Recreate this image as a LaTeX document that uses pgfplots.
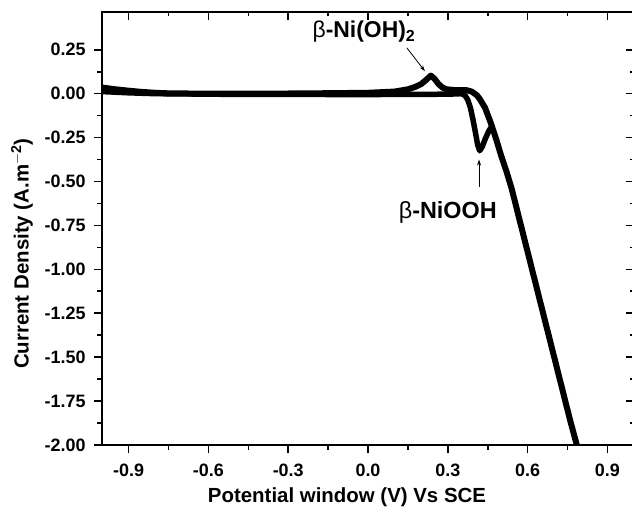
\documentclass[border=0pt]{standalone}
\usepackage{fontspec}
\setmainfont{Liberation Sans}
\usepackage{pgfplots}
\pgfplotsset{compat=1.18}
\usetikzlibrary{arrows.meta}

\pgfplotsset{
  common/.style={
    scale only axis, width=532bp, height=433bp,
    xmin=-1.0, xmax=1.0, ymin=-2.0, ymax=0.465,
    xtick={-0.9,-0.6,-0.3,0,0.3,0.6,0.9},
    ytick={-2,-1.75,-1.5,-1.25,-1,-0.75,-0.5,-0.25,0,0.25},
    minor x tick num=1, minor y tick num=1,
    axis line style={line width=2bp},
    major tick length=8bp, minor tick length=4.5bp,
    every tick/.append style={line width=1.6bp, black},
  }
}

\begin{document}
\begin{tikzpicture}
\useasboundingbox (-102bp,-69bp) rectangle (530bp,445bp);
\begin{axis}[common,
  xtick pos=left, ytick pos=left, tick align=outside,
  /pgf/number format/assume math mode=true,
  xticklabel style={font=\bfseries\fontsize{18}{18}\selectfont, yshift=-7bp,
    /pgf/number format/.cd, fixed, fixed zerofill, precision=1},
  yticklabel style={font=\bfseries\fontsize{18}{18}\selectfont, xshift=-5bp,
    /pgf/number format/.cd, fixed, fixed zerofill, precision=2},
  xlabel={Potential window (V) Vs SCE},
  ylabel={Current Density (A.m$^{\mathbf{-2}}$)},
  label style={font=\bfseries\fontsize{20.5}{22}\selectfont},
  xlabel style={at={(axis description cs:0.4605,-0.120)}, anchor=center},
  ylabel style={at={(axis description cs:-0.1504,0.442)}, anchor=center},
]
% branch with oxidation peak and upper return
\addplot[black, line width=6bp, line join=round, line cap=round] coordinates {
(-1.0,0.035) (-0.95,0.025) (-0.9,0.017) (-0.85,0.01) (-0.8,0.005) (-0.75,0.002)
(-0.6,0.0) (-0.4,0.0) (-0.2,0.002) (0.0,0.005) (0.1,0.012) (0.15,0.025)
(0.18,0.04) (0.2,0.055) (0.22,0.08) (0.236,0.103) (0.25,0.085) (0.265,0.055)
(0.28,0.035) (0.295,0.025) (0.33,0.02) (0.37,0.02) (0.39,0.012) (0.41,-0.01)
(0.42,-0.03) (0.44,-0.08) (0.46,-0.16) (0.48,-0.25) (0.50,-0.35) (0.52,-0.44)
(0.54,-0.54) (0.56,-0.66) (0.58,-0.78) (0.60,-0.90) (0.63,-1.08) (0.66,-1.26)
(0.68,-1.38) (0.70,-1.50) (0.73,-1.68) (0.76,-1.86) (0.785,-2.0)
};
% branch with reduction dip and lower baseline
\addplot[black, line width=5.5bp, line join=round, line cap=round] coordinates {
(0.466,-0.185) (0.455,-0.21) (0.44,-0.26) (0.43,-0.30) (0.42,-0.325) (0.412,-0.29)
(0.405,-0.23) (0.395,-0.15) (0.385,-0.08) (0.375,-0.035) (0.365,-0.01) (0.35,0.0)
(0.3,-0.003) (0.0,-0.005) (-0.5,-0.004) (-0.8,0.0) (-0.9,0.005) (-1.0,0.012)
};
\node[anchor=base, font=\bfseries\fontsize{23}{24}\selectfont] at (axis cs:-0.015,0.318)
  {{\mdseries β}-Ni(OH)$_{\mathbf{2}}$};
\node[anchor=base, font=\bfseries\fontsize{23.5}{24}\selectfont] at (axis cs:0.30,-0.71)
  {{\mdseries β}-NiOOH};
\draw[-{Stealth[length=6bp,width=4bp]}, line width=0.8bp] (axis cs:0.146,0.261) -- (axis cs:0.214,0.128);
\draw[-{Stealth[length=6bp,width=4bp]}, line width=0.8bp] (axis cs:0.4175,-0.53) -- (axis cs:0.4175,-0.375);
\end{axis}
\begin{axis}[common,
  xtick pos=right, ytick pos=right, tick align=inside,
  xticklabels={}, yticklabels={},
]
\end{axis}
\end{tikzpicture}
\end{document}
